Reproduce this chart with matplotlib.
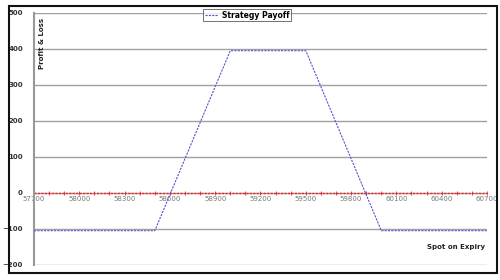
import numpy as np
import matplotlib.pyplot as plt
from matplotlib.patches import Rectangle

# spot on expiry and strategy payoff
spot = [57700, 57800, 57900, 58000, 58100, 58200, 58300, 58400, 58500, 58600,
        58700, 58800, 58900, 59000, 59100, 59200, 59300, 59400, 59500, 59600,
        59700, 59800, 59900, 60000, 60100, 60200, 60300, 60400, 60500, 60600, 60700]
payoff = [-105, -105, -105, -105, -105, -105, -105, -105, -105, -5,
          95, 195, 295, 395, 395, 395, 395, 395, 395, 295,
          195, 95, -5, -105, -105, -105, -105, -105, -105, -105, -105]
zero = [0] * len(spot)

xticks = [57700, 58000, 58300, 58600, 58900, 59200, 59500, 59800, 60100, 60400, 60700]
yticks = [-200, -100, 0, 100, 200, 300, 400, 500]

fig = plt.figure(figsize=(5, 2.8), dpi=100)
ax = fig.add_axes([0.068, 0.054, 0.906, 0.9])

for y in yticks:
    ax.axhline(y, color='#a0a0a0', lw=1.0, zorder=0)

ax.plot(spot, zero, color='#ee2222', lw=1.0, ls=(0, (1.5, 1)), zorder=2)
ax.plot(spot, zero, color='#ee2222', lw=0, marker='|', ms=2.5, mew=0.6,
        markevery=1, zorder=2)
ax.plot(spot, payoff, color='#5555cc', lw=0.8, ls=(0, (2, 1)), label='Strategy Payoff', zorder=3)

ax.set_xlim(57700, 60700)
ax.set_ylim(-200, 500)
ax.set_yticks(yticks)
ax.set_xticks(xticks)
ax.tick_params(axis='y', labelsize=5, length=0, pad=8, labelcolor='#333333')
ax.tick_params(axis='x', labelsize=5, length=0, pad=2, labelcolor='#777777')
ax.spines['bottom'].set_position(('data', 0))
ax.spines['bottom'].set_visible(False)
ax.spines['top'].set_visible(False)
ax.spines['right'].set_visible(False)
ax.spines['left'].set_color('#999999')
ax.spines['left'].set_linewidth(1.5)
for lab in ax.get_yticklabels():
    lab.set_fontweight('bold')

ax.text(0.018, 0.88, 'Profit & Loss', transform=ax.transAxes, rotation=90,
        fontsize=5, fontweight='bold', ha='center', va='center', color='#222222')
ax.text(0.995, 0.07, 'Spot on Expiry', transform=ax.transAxes,
        fontsize=5, fontweight='bold', ha='right', va='center', color='#222222')

leg = ax.legend(loc='upper center', bbox_to_anchor=(0.47, 1.03),
                frameon=True, fancybox=False, borderpad=0.2, handlelength=1.8,
                handletextpad=0.4, prop={'weight': 'bold', 'size': 5.5})
leg.get_frame().set_edgecolor('#333333')
leg.get_frame().set_linewidth(0.6)

fig.patches.append(Rectangle((0.018, 0.025), 0.975, 0.953, transform=fig.transFigure,
                             fill=False, edgecolor='#111111', lw=1.5))

fig.savefig('out.png', dpi=100)
